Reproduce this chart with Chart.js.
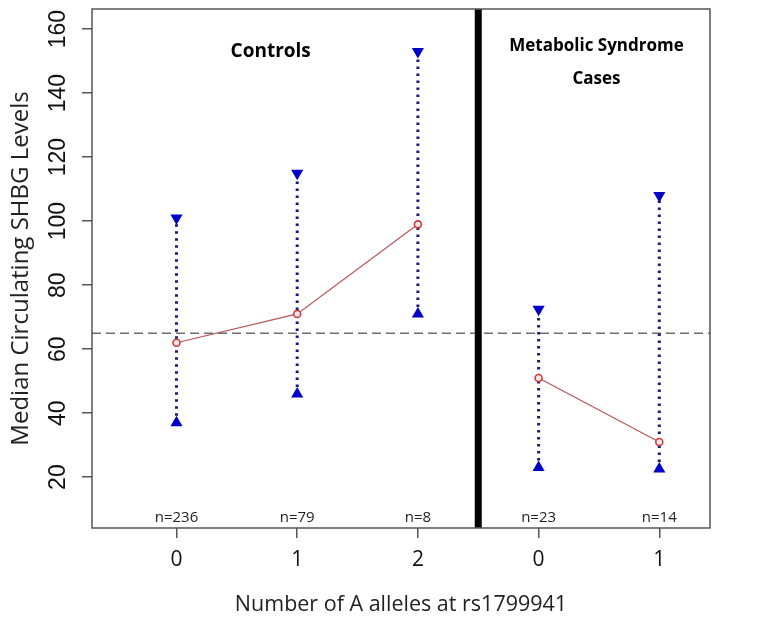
<!DOCTYPE html>
<html>
<head>
<meta charset="utf-8">
<script src="https://cdn.jsdelivr.net/npm/chart.js@4.4.1/dist/chart.umd.min.js"></script>
<style>
  html, body { margin: 0; padding: 0; background: #fff; }
  #wrap { width: 760px; height: 621px; }
</style>
</head>
<body>
<div id="wrap"><canvas id="mycanvas" width="760" height="621"></canvas></div>
<script>
// positions 0..4 on the x axis: controls 0,1,2 then cases 0,1
var tickLabels = ['0', '1', '2', '0', '1'];
var nLabels = ['n=236', 'n=79', 'n=8', 'n=23', 'n=14'];

var controlMedian = [62, 71, 99];
var controlUpper = [101, 115, 153];
var controlLower = [37, 46, 71];

var caseMedian = [51, 31];
var caseUpper = [72.5, 108];
var caseLower = [23, 22.5];

var refLine = 65;
var groupTitles = [['Controls'], ['Metabolic Syndrome', 'Cases']];

var xMin = -0.7, xMax = 4.42;
var yMin = 4.1, yMax = 166.3;

var datasets = [];

// dotted whiskers with triangles
var uppers = controlUpper.concat(caseUpper);
var lowers = controlLower.concat(caseLower);
for (var i = 0; i < uppers.length; i++) {
    datasets.push({
        data: [{x: i, y: lowers[i]}, {x: i, y: uppers[i]}],
        borderColor: '#1a1a7a',
        borderWidth: 3,
        borderDash: [2.5, 4.5],
        pointStyle: 'triangle',
        pointRotation: [0, 180],
        pointRadius: 7,
        pointBackgroundColor: '#0000c8',
        pointBorderColor: '#0000c8',
        pointBorderWidth: 0,
        order: 2
    });
}

// median lines
datasets.push({
    data: controlMedian.map(function(v, i) { return {x: i, y: v}; }),
    borderColor: '#b5565a',
    borderWidth: 1.2,
    pointRadius: 3.5,
    pointBackgroundColor: '#fbe9e9',
    pointBorderColor: '#d23a3a',
    pointBorderWidth: 1.6,
    order: 1
});
datasets.push({
    data: caseMedian.map(function(v, i) { return {x: i + 3, y: v}; }),
    borderColor: '#b5565a',
    borderWidth: 1.2,
    pointRadius: 3.5,
    pointBackgroundColor: '#fbe9e9',
    pointBorderColor: '#d23a3a',
    pointBorderWidth: 1.6,
    order: 1
});

// reference dashed line
datasets.push({
    data: [{x: xMin, y: refLine}, {x: xMax, y: refLine}],
    borderColor: '#6e6e6e',
    borderWidth: 1.5,
    borderDash: [9, 5],
    pointRadius: 0,
    order: 3
});

// thick separator
datasets.push({
    data: [{x: 2.5, y: yMin}, {x: 2.5, y: yMax}],
    borderColor: '#000',
    borderWidth: 7,
    pointRadius: 0,
    order: 0
});

var extras = {
    id: 'extras',
    afterDraw: function(chart) {
        var ctx = chart.ctx;
        var a = chart.chartArea;
        var xs = chart.scales.x;
        ctx.save();
        ctx.strokeStyle = '#555';
        ctx.lineWidth = 1.5;
        ctx.strokeRect(a.left, a.top, a.right - a.left, a.bottom - a.top);

        ctx.fillStyle = '#222';
        ctx.font = '15px "Open Sans", sans-serif';
        ctx.textAlign = 'center';
        ctx.textBaseline = 'alphabetic';
        for (var i = 0; i < nLabels.length; i++) {
            ctx.fillText(nLabels[i], xs.getPixelForValue(i), a.bottom - 6);
        }

        ctx.fillStyle = '#000';
        ctx.font = 'bold 19px "Open Sans", sans-serif';
        ctx.fillText(groupTitles[0][0], xs.getPixelForValue(0.78), 57);
        ctx.font = 'bold 17px "Open Sans", sans-serif';
        ctx.fillText(groupTitles[1][0], xs.getPixelForValue(3.48), 51);
        ctx.fillText(groupTitles[1][1], xs.getPixelForValue(3.48), 84);
        ctx.restore();
    }
};

new Chart(document.getElementById('mycanvas'), {
    type: 'line',
    data: { datasets: datasets },
    plugins: [extras],
    options: {
        responsive: false,
        animation: false,
        layout: { padding: { top: 9, right: 50, left: 0, bottom: 0 } },
        plugins: { legend: { display: false }, tooltip: { enabled: false } },
        scales: {
            x: {
                type: 'linear',
                min: xMin,
                max: xMax,
                afterBuildTicks: function(s) {
                    s.ticks = tickLabels.map(function(t, i) { return {value: i}; });
                },
                afterFit: function(s) {
                    s.height = 93;
                    s.paddingLeft = 0;
                    s.paddingRight = 0;
                },
                grid: { drawOnChartArea: false, drawTicks: true, tickLength: 10, color: '#555', lineWidth: 1.5 },
                border: { display: false },
                ticks: {
                    color: '#111',
                    font: { family: '"Open Sans", sans-serif', size: 21 },
                    padding: 9,
                    maxRotation: 0,
                    callback: function(v) { return tickLabels[v]; }
                },
                title: {
                    display: true,
                    text: 'Number of A alleles at rs1799941',
                    color: '#222',
                    font: { family: '"Open Sans", sans-serif', size: 21.5 },
                    padding: { top: 10, bottom: 3 }
                }
            },
            y: {
                type: 'linear',
                min: yMin,
                max: yMax,
                afterBuildTicks: function(s) {
                    var t = [];
                    for (var v = 20; v <= 160; v += 20) t.push({value: v});
                    s.ticks = t;
                },
                afterFit: function(s) {
                    s.width = 92;
                    s.paddingTop = 0;
                    s.paddingBottom = 0;
                },
                grid: { drawOnChartArea: false, drawTicks: true, tickLength: 10, color: '#555', lineWidth: 1.5 },
                border: { display: false },
                ticks: {
                    color: '#111',
                    font: { family: '"Liberation Sans", Arial, sans-serif', size: 23 },
                    padding: 4,
                    crossAlign: 'center',
                    minRotation: 90,
                    maxRotation: 90
                },
                title: {
                    display: true,
                    text: 'Median Circulating SHBG Levels',
                    color: '#222',
                    font: { family: '"Open Sans", sans-serif', size: 24 },
                    padding: { top: 7, bottom: 0 }
                }
            }
        }
    }
});
</script>
</body>
</html>
